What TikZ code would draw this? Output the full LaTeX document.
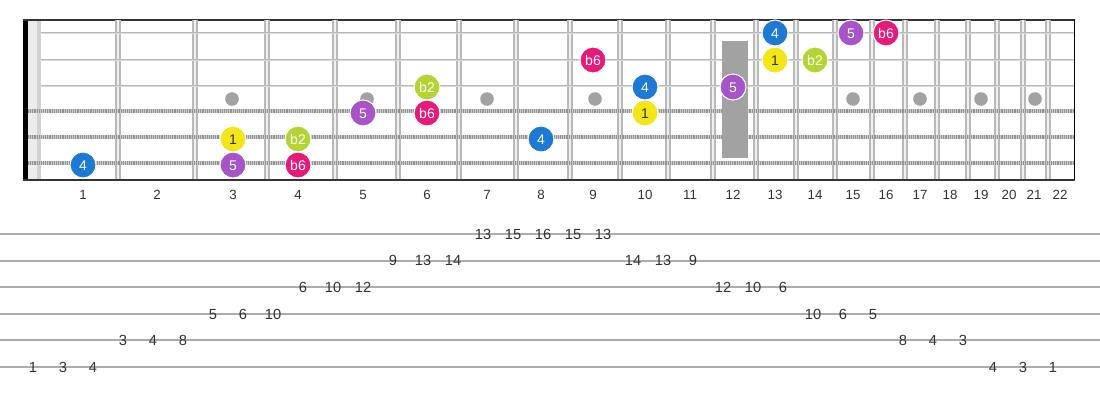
\documentclass[tikz,border=0pt]{standalone}
\usepackage{fontspec}
\setmainfont{Liberation Sans}
\usetikzlibrary{calc}

\definecolor{degYellow}{RGB}{242,230,24}
\definecolor{degBlue}{RGB}{28,122,212}
\definecolor{degPurple}{RGB}{166,84,200}
\definecolor{degPink}{RGB}{230,26,122}
\definecolor{degLime}{RGB}{180,212,52}
\definecolor{inkGray}{RGB}{51,51,51}
\definecolor{dotGray}{RGB}{162,162,162}

\tikzset{
	NoteStyle/.style = {shape=circle, draw=white, line width=0.8pt, minimum size=19.5pt,
		inner sep=0pt, text=white, text height=7.6pt, text depth=0pt,
		font=\fontsize{10.5}{11}\selectfont},
	degOne/.style = {NoteStyle, fill=degYellow, text=inkGray},
	degFlatTwo/.style = {NoteStyle, fill=degLime},
	degFour/.style = {NoteStyle, fill=degBlue},
	degFive/.style = {NoteStyle, fill=degPurple},
	degFlatSix/.style = {NoteStyle, fill=degPink},
	FretLabel/.style = {text=inkGray, text height=7.2pt, text depth=0pt,
		font=\fontsize{10}{11}\selectfont},
	TabNumber/.style = {text=inkGray, inner sep=0pt, text height=7.9pt, text depth=0pt,
		font=\fontsize{11}{12}\selectfont}
}

\begin{document}
\begin{tikzpicture}[x=0.75pt,y=-0.75pt]

		\useasboundingbox (0,0) rectangle (1100,400);

		%board
		\fill[black] (23,19) rectangle (28,180);
		\fill[gray!15] (28,19) rectangle (37,180);
		\fill[gray!35] (37,19) rectangle (41,180);
		\draw[line width=1.5pt, inkGray] (23,19.5) -- (1075,19.5);
		\draw[line width=1.5pt, inkGray] (23,179.5) -- (1075,179.5);
		\draw[line width=1.2pt, black] (1074.5,19) -- (1074.5,180);

		%frets
		\foreach \x in {118,195,267,335,398,459,516,570,620,668,713,756,796,835,872,905,937,968,997,1023,1048}{
			\draw[line width=3.8pt, gray!55] (\x,20) -- (\x,179);
			\draw[line width=1.4pt, gray!12] (\x,20) -- (\x,179);
		}

		%strings
		\foreach \y in {33,60,86}{
			\draw[line width=2.2pt, gray!55] (41,\y) -- (1074,\y);
			\draw[line width=0.6pt, gray!30] (41,\y) -- (1074,\y);
		}
		\foreach \y in {111,137,163}{
			\draw[line width=3.2pt, gray!40] (28,\y) -- (1074,\y);
			\draw[line width=3.2pt, gray!85, dash pattern=on 0.7pt off 0.7pt] (28,\y) -- (1074,\y);
		}

		%inlays
		\foreach \x in {232,367,487,595,853,920,981,1035}{
			\fill[dotGray] (\x,99) circle (6.8);
		}
		\fill[dotGray] (722,41) rectangle (748,158);

		%fret numbers
		\foreach \n/\x in {1/83,2/157,3/233,4/298,5/363,6/427,7/487,8/541,9/593,10/645,11/690,
			12/733,13/775,14/815,15/853,16/886,17/920,18/950,19/981,20/1009,21/1034,22/1060}{
			\node[FretLabel] (fret\n) at (\x,195) {\n};
		}

		%notes string 6
		\node[degFour] (sixA) at (83,165) {4};
		\node[degFive] (sixB) at (233,165) {5};
		\node[degFlatSix] (sixC) at (298,165) {b6};
		%notes string 5
		\node[degOne] (fiveA) at (233,139) {1};
		\node[degFlatTwo] (fiveB) at (298,139) {b2};
		\node[degFour] (fiveC) at (541,139) {4};
		%notes string 4
		\node[degFive] (fourA) at (363,113) {5};
		\node[degFlatSix] (fourB) at (427,113) {b6};
		\node[degOne] (fourC) at (645,113) {1};
		%notes string 3
		\node[degFlatTwo] (threeA) at (427,87) {b2};
		\node[degFour] (threeB) at (645,87) {4};
		\node[degFive] (threeC) at (733,87) {5};
		%notes string 2
		\node[degFlatSix] (twoA) at (593,60) {b6};
		\node[degOne] (twoB) at (775,60) {1};
		\node[degFlatTwo] (twoC) at (815,60) {b2};
		%notes string 1
		\node[degFour] (oneA) at (775,33) {4};
		\node[degFive] (oneB) at (851,33) {5};
		\node[degFlatSix] (oneC) at (886,33) {b6};

		%tab
		\foreach \s in {1,...,6}{
			\draw[line width=1.4pt, gray!65] (0,{234+26.6*(\s-1)}) -- (1100,{234+26.6*(\s-1)});
		}
		\foreach \k/\s/\n in {0/6/1,1/6/3,2/6/4,3/5/3,4/5/4,5/5/8,6/4/5,7/4/6,8/4/10,
			9/3/6,10/3/10,11/3/12,12/2/9,13/2/13,14/2/14,15/1/13,16/1/15,17/1/16,18/1/15,19/1/13,
			20/2/14,21/2/13,22/2/9,23/3/12,24/3/10,25/3/6,26/4/10,27/4/6,28/4/5,
			29/5/8,30/5/4,31/5/3,32/6/4,33/6/3,34/6/1}{
			\node[TabNumber] (tab\k) at ({33+30*\k},{234+26.6*(\s-1)}) {\n};
		}
	\end{tikzpicture}
\end{document}
